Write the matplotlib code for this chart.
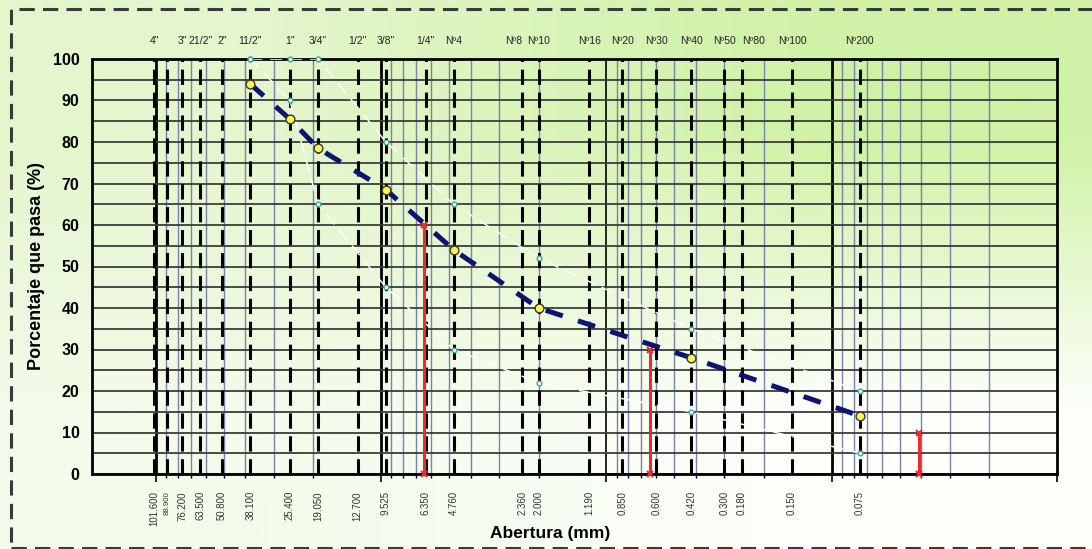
import matplotlib.pyplot as plt
import numpy as np
from matplotlib.ticker import LogLocator, NullFormatter
from matplotlib.patches import Rectangle

plt.rcParams['font.family'] = ['Liberation Sans', 'DejaVu Sans']

# tamices: abertura (mm), nombre arriba, etiqueta abajo
# (el Nº80 esta dibujado en la casilla de 0.25 mm en la hoja original)
abertura = [101.6, 88.9, 76.2, 63.5, 50.8, 38.1, 25.4, 19.05, 12.7, 9.525, 6.35,
            4.76, 2.36, 2.0, 1.19, 0.85, 0.6, 0.42, 0.3, 0.25, 0.15, 0.075]
nombre_tamiz = ['4"', '', '3"', '21/2"', '2"', '11/2"', '1"', '3/4"', '1/2"', '3/8"', '1/4"',
                'Nº4', 'Nº8', 'Nº10', 'Nº16', 'Nº20', 'Nº30', 'Nº40', 'Nº50', 'Nº80',
                'Nº100', 'Nº200']
etiqueta_abertura = ['101.600', '88.900', '76.200', '63.500', '50.800', '38.100', '25.400',
                     '19.050', '12.700', '9.525', '6.350', '4.760', '2.360', '2.000',
                     '1.190', '0.850', '0.600', '0.420', '0.300', '0.180', '0.150', '0.075']

# curva granulometrica y limites del huso
abertura_muestra = [38.1, 25.4, 19.05, 9.525, 4.76, 2.0, 0.42, 0.075]
pasa = [94, 85.5, 78.5, 68.5, 54, 40, 28, 14]
lim_sup = [100, 100, 100, 80, 65, 52, 35, 20]
lim_inf = [100, 90, 65, 45, 30, 22, 15, 5]

# D60, D30, D10
d_abertura = [6.45, 0.64, 0.041]
d_pasa = [60, 30, 10]

fig = plt.figure(figsize=(10.92, 5.49), dpi=100)

# fondo degradado
bg = fig.add_axes([0, 0, 1, 1], zorder=-10)
colores = np.array([[[0xe3, 0xf6, 0xcc], [0xd0, 0xf2, 0xa6]],
                    [[0xf3, 0xfb, 0xea], [0xfd, 0xff, 0xfb]]]) / 255.0
bg.imshow(colores, extent=[0, 1, 0, 1], aspect='auto', interpolation='bilinear')
bg.axis('off')

fig.add_artist(Rectangle((11 / 1092, 1 / 549), 1.1, 539 / 549, transform=fig.transFigure,
                         fill=False, ec='#3a3a3a', lw=2.2, ls=(0, (5, 2.7)), clip_on=False))

ax = fig.add_axes([92 / 1092, 1 - 474 / 549, (1057 - 92) / 1092, (474 - 59) / 549])
ax.set_facecolor('none')
ax.set_xscale('log')
ax.set_xlim(192, 0.01)
ax.set_ylim(0, 100)

# rejilla
ax.set_yticks(range(0, 101, 10))
ax.set_yticks(range(0, 101, 5), minor=True)
ax.yaxis.grid(True, which='both', color='#3c3c3c', lw=1.3, zorder=1)
ax.set_yticklabels([str(v) for v in range(0, 101, 10)], fontsize=11.5, fontweight='bold')
ax.tick_params(axis='y', which='both', length=0, pad=9)

ax.xaxis.set_major_locator(LogLocator(base=10))
ax.xaxis.set_minor_locator(LogLocator(base=10, subs=range(2, 10), numticks=20))
ax.xaxis.set_major_formatter(NullFormatter())
ax.xaxis.set_minor_formatter(NullFormatter())
ax.xaxis.grid(True, which='minor', color='#7b82aa', lw=1.0, zorder=1)
ax.tick_params(axis='x', which='major', direction='out', length=6, width=1.2)
ax.tick_params(axis='x', which='minor', direction='out', length=3, width=1.0)
for d in [100, 10, 1, 0.1]:
    ax.axvline(d, color='black', lw=1.2 if d == 1 else 2.0, zorder=1.5)

for s in ax.spines.values():
    s.set_linewidth(2.0)
    s.set_color('black')

# tamices
tr = ax.get_xaxis_transform()
alineacion = {'Nº8': 'right', 'Nº80': 'left'}
for a, nom, et in zip(abertura, nombre_tamiz, etiqueta_abertura):
    ax.axvline(a, color='black', lw=2.2, ls=(0, (5, 2.5)), zorder=2)
    if nom:
        ax.text(a, 1.043, nom, transform=tr, fontsize=7.5, color='#222222',
                ha=alineacion.get(nom, 'center'), va='center')
    ax.text(a, -0.041, et, transform=tr, rotation=90, fontsize=5.6 if et == '88.900' else 6.9,
            color='#333333', ha='center', va='top')

# limites del huso
ax.plot(abertura_muestra, lim_sup, color='white', lw=1.1, ls=(0, (8, 5)), zorder=3)
ax.plot(abertura_muestra, lim_inf, color='white', lw=1.1, ls=(0, (8, 5)), zorder=3)
ax.plot(abertura_muestra, lim_sup, ls='none', marker='o', ms=3.5, mfc='#e4f6ea',
        mec='#3f9f9a', mew=0.9, zorder=4, clip_on=False)
ax.plot(abertura_muestra, lim_inf, ls='none', marker='o', ms=3.5, mfc='#e4f6ea',
        mec='#3f9f9a', mew=0.9, zorder=4, clip_on=False)

# D60, D30, D10
for a, p in zip(d_abertura, d_pasa):
    ax.plot([a, a], [0, p], color='#ee2b2b', lw=2.2, marker='x', ms=4, mew=1.5,
            zorder=4, clip_on=False)

# curva
ax.plot(abertura_muestra, pasa, color='#0b1470', lw=3.6, ls=(0, (3.6, 3.2)), zorder=5)
ax.plot(abertura_muestra, pasa, ls='none', marker='o', ms=6.3, mfc='#fbf552',
        mec='#3a3a20', mew=1.0, zorder=6)

fig.text(37 / 1092, 1 - 266 / 549, 'Porcentaje que pasa (%)', rotation=90, fontsize=13,
         fontweight='bold', ha='center', va='center')
fig.text(550 / 1092, 1 - 538 / 549, 'Abertura (mm)', fontsize=12.5, fontweight='bold',
         ha='center', va='baseline')

fig.savefig('out.png', dpi=100)
